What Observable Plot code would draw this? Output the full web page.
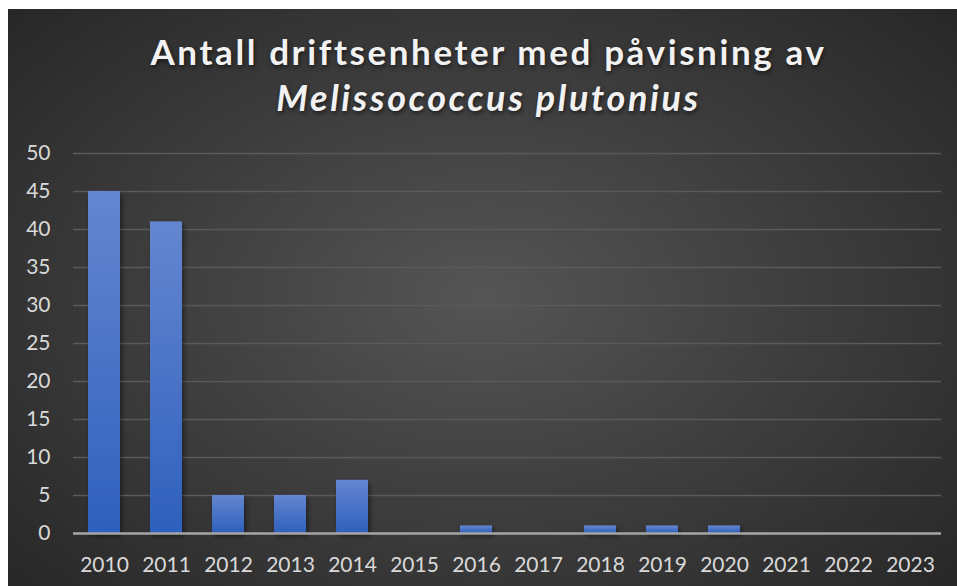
<!DOCTYPE html>
<html>
<head>
<meta charset="utf-8">
<script src="https://cdn.jsdelivr.net/npm/d3@7"></script>
<script src="https://cdn.jsdelivr.net/npm/@observablehq/plot@0.6"></script>
<style>
  html, body { margin: 0; padding: 0; background: #ffffff; }
  #page { position: relative; width: 957px; height: 586px; overflow: hidden; background: #ffffff; }
  #panel {
    position: absolute; left: 8px; top: 9px; width: 949px; height: 577px;
    background: radial-gradient(ellipse 70% 75% at 50% 50%, #555555 0%, #3d3d3d 50%, #262626 100%);
  }
  #title {
    position: absolute; left: 10px; top: 28px; width: 957px; text-align: center;
    font-family: Lato, "Open Sans", sans-serif; font-weight: 700; color: #f2f2f2;
    font-size: 35px; letter-spacing: 2.6px; line-height: 46px;
    text-shadow: 1px 2px 4px rgba(0,0,0,0.6);
  }
  #title i { font-style: italic; font-size: 36px; }
  #chart { position: absolute; left: 0; top: 130px; }
</style>
</head>
<body>
<div id="page">
  <div id="panel"></div>
  <div id="title">Antall driftsenheter med påvisning av<br><i>Melissococcus plutonius</i></div>
  <div id="chart"></div>
</div>
<script>
const years = ["2010","2011","2012","2013","2014","2015","2016","2017","2018","2019","2020","2021","2022","2023"];
const counts = [45, 41, 5, 5, 7, 0, 1, 0, 1, 1, 1, 0, 0, 0];
const yTicks = [0, 5, 10, 15, 20, 25, 30, 35, 40, 45, 50];

const data = years.map((y, i) => ({year: y, count: counts[i]}));

const chart = Plot.plot({
  width: 957,
  height: 456,
  marginTop: 23,
  marginBottom: 53,
  marginLeft: 73,
  marginRight: 16,
  style: {background: "transparent", color: "#d9d9d9", fontFamily: "Lato, 'Open Sans', sans-serif", fontSize: "21px"},
  x: {domain: years, paddingInner: 0.48, paddingOuter: 0.24, label: null, tickSize: 0, tickPadding: 24},
  y: {domain: [0, 50], ticks: yTicks, label: null, tickSize: 0, tickPadding: 23},
  marks: [
    Plot.gridY(yTicks.filter(d => d > 0), {stroke: "#5a5a5a", strokeOpacity: 1, strokeWidth: 1.3}),
    Plot.barY(data.filter(d => d.count > 0), {x: "year", y: "count", fill: "url(#barGrad)", className: "bars"}),
    Plot.ruleY([0], {stroke: "#a6a6a6", strokeWidth: 2.5}),
    Plot.axisY({ticks: yTicks, tickSize: 0, tickPadding: 23, fill: "#d9d9d9"}),
    Plot.axisX({tickSize: 0, tickPadding: 24, fill: "#d9d9d9"})
  ]
});

const svg = d3.select(chart);
const defs = svg.insert("defs", ":first-child");
const g = defs.append("linearGradient").attr("id", "barGrad")
  .attr("x1", 0).attr("y1", 0).attr("x2", 0).attr("y2", 1);
g.append("stop").attr("offset", "0%").attr("stop-color", "#6586d0");
g.append("stop").attr("offset", "100%").attr("stop-color", "#2e60bd");
const f = defs.append("filter").attr("id", "shadow").attr("x", "-20%").attr("y", "-20%").attr("width", "150%").attr("height", "150%");
f.append("feDropShadow").attr("dx", 2).attr("dy", 3).attr("stdDeviation", 2.5).attr("flood-color", "#000").attr("flood-opacity", 0.45);
svg.selectAll("g.bars, g[aria-label='bar']").attr("filter", "url(#shadow)");

document.getElementById("chart").appendChild(chart);
</script>
</body>
</html>
